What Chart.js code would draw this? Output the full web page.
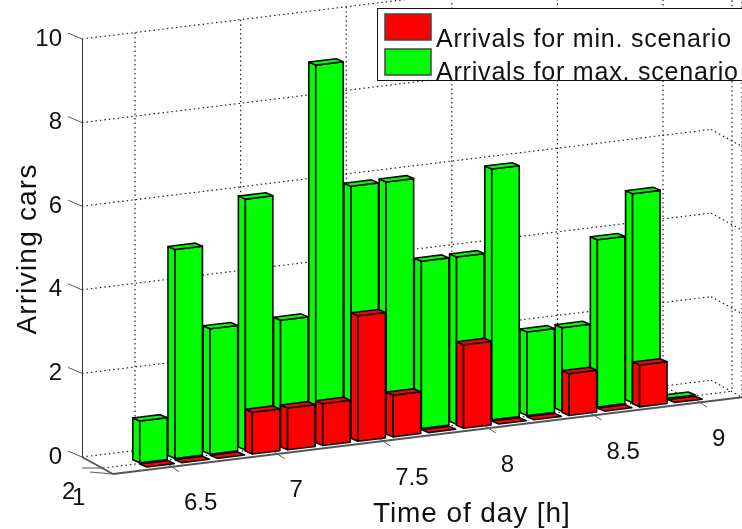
<!DOCTYPE html>
<html>
<head>
<meta charset="utf-8">
<style>
  html, body { margin: 0; padding: 0; background: #fff; overflow: hidden; }
  #wrap { width: 742px; height: 529px; }
</style>
<script src="https://cdn.jsdelivr.net/npm/chart.js@4"></script>
</head>
<body>
<div id="wrap"><canvas id="grafico"></canvas></div>
<script>
const horas = [6.5, 6.6667, 6.8333, 7, 7.1667, 7.3333, 7.5, 7.6667, 7.8333, 8, 8.1667, 8.3333, 8.5, 8.6667, 8.8333, 9];
const minCenario = [0, 0, 0, 1, 1, 1, 3, 1, 0, 2, 0, 0, 1, 0, 1, 0];
const maxCenario = [1, 5, 3, 6, 3, 9, 6, 6, 4, 4, 6, 2, 2, 4, 5, 0];
const ticksX = [6.5, 7, 7.5, 8, 8.5, 9];
const ticksZ = [0, 2, 4, 6, 8, 10];
const ticksProf = ['2', '1'];

const FONTE = '"Liberation Sans", Arial, sans-serif';
const INCL = -0.122;
const PROF_X = 7, PROF_Y = 3;
const deslocaBarra = [{ dx: 7, dy: 14 }, { dx: 0, dy: 9 }];

function linha(ctx, x1, y1, x2, y2) {
  ctx.beginPath();
  ctx.moveTo(x1, y1);
  ctx.lineTo(x2, y2);
  ctx.stroke();
}

function poligono(ctx, pts, cor) {
  ctx.beginPath();
  pts.forEach((p, i) => (i ? ctx.lineTo(p[0], p[1]) : ctx.moveTo(p[0], p[1])));
  ctx.closePath();
  ctx.fillStyle = cor;
  ctx.fill();
  ctx.stroke();
}

function texto(ctx, str, x, y, tam, esp, alinh) {
  ctx.font = tam + 'px ' + FONTE;
  ctx.letterSpacing = esp + 'px';
  ctx.textAlign = alinh || 'left';
  ctx.fillStyle = '#111';
  ctx.fillText(str, x, y);
  ctx.letterSpacing = '0px';
}

// fundo em perspectiva: parede de tras, chao e parede direita
const fundo3d = {
  id: 'fundo3d',
  beforeDatasetsDraw(chart) {
    const ctx = chart.ctx, sx = chart.scales.x, sz = chart.scales.y;
    const x0 = chart.chartArea.left;
    const z0 = sz.getPixelForValue(0), z10 = sz.getPixelForValue(10);
    const sobe = (x) => INCL * (x - x0);
    const xFim = 711;
    ctx.save();
    ctx.strokeStyle = '#222';
    ctx.lineWidth = 1.2;
    ctx.setLineDash([1.5, 3]);
    ticksZ.forEach((v) => {
      const y = sz.getPixelForValue(v);
      linha(ctx, x0, y, xFim, y + sobe(xFim));
      linha(ctx, xFim, y + sobe(xFim), xFim + 31, y + sobe(xFim) + 17);
    });
    ticksX.forEach((v) => {
      const x = sx.getPixelForValue(v) - 15;
      linha(ctx, x, z10 + sobe(x), x, z0 + sobe(x));
      linha(ctx, x, z0 + sobe(x), x + 32, z0 + sobe(x) + 16);
    });
    // profundidade y = 2
    linha(ctx, x0 + 21, z0 + 11, xFim + 21, z0 + sobe(xFim) + 11);
    linha(ctx, xFim + 21, z10 + sobe(xFim) + 11, xFim + 21, z0 + sobe(xFim) + 11);
    linha(ctx, xFim + 31, z10 + sobe(xFim) + 17, xFim + 31, z0 + sobe(xFim) + 17);
    ctx.setLineDash([]);

    // bordas do chao
    ctx.strokeStyle = '#555';
    ctx.lineWidth = 1.8;
    linha(ctx, x0, z0, x0 + 31, z0 + 17);
    linha(ctx, x0 + 31, z0 + 17, xFim + 31, z0 + sobe(xFim) + 17);

    // marcas dos eixos
    ctx.lineWidth = 1;
    ticksZ.forEach((v) => {
      const y = sz.getPixelForValue(v);
      linha(ctx, x0, y, x0 - 14, y - 6);
    });
    linha(ctx, x0 + 21, z0 + 11, x0, z0 + 11);
    linha(ctx, x0 + 31, z0 + 17, x0 + 8, z0 + 15);
    ticksX.forEach((v) => {
      const x = sx.getPixelForValue(v) + 17;
      linha(ctx, x, z0 + sobe(x) + 17, x + 12, z0 + sobe(x) + 25);
    });
    ctx.restore();
  },

  // desenha cada barra como caixa, a partir dos elementos calculados pelo Chart.js
  beforeDatasetDraw(chart, args) {
    const ctx = chart.ctx;
    const x0 = chart.chartArea.left;
    const d = deslocaBarra[args.index];
    const cor = chart.data.datasets[args.index].backgroundColor;
    ctx.save();
    ctx.strokeStyle = '#0a0a0a';
    ctx.lineWidth = 1.6;
    ctx.lineJoin = 'round';
    args.meta.data.forEach((el) => {
      const p = el.getProps(['x', 'y', 'base', 'width'], true);
      const e = p.x - p.width / 2 + d.dx;
      const largura = p.width - PROF_X;
      const s = INCL * (e - x0) + d.dy;
      const queda = INCL * largura;
      const tb = p.y + s, bb = p.base + s; // topo e base no canto de tras
      const fe = e + PROF_X, fd = fe + largura;
      if (bb - tb > 0.5) {
        poligono(ctx, [[e, tb], [fe, tb + PROF_Y], [fe, bb + PROF_Y], [e, bb]], cor);
        poligono(ctx, [[fe, tb + PROF_Y], [fd, tb + PROF_Y + queda], [fd, bb + PROF_Y + queda], [fe, bb + PROF_Y]], cor);
      }
      poligono(ctx, [[e, tb], [fe, tb + PROF_Y], [fd, tb + PROF_Y + queda], [fd - PROF_X, tb + queda]], cor);
    });
    ctx.restore();
    return false;
  },

  afterDraw(chart) {
    const ctx = chart.ctx, sx = chart.scales.x, sz = chart.scales.y;
    const x0 = chart.chartArea.left;
    const z0 = sz.getPixelForValue(0);
    ctx.save();
    ctx.textBaseline = 'middle';
    ticksX.forEach((v) => {
      const x = sx.getPixelForValue(v);
      texto(ctx, String(v), x + 34, z0 + INCL * (x - x0) + 55, 24, 0);
    });
    texto(ctx, ticksProf[0], 62, 492, 24, 0);
    texto(ctx, ticksProf[1], 72, 498, 24, 0);

    ctx.textBaseline = 'alphabetic';
    texto(ctx, 'Time of day [h]', 373, 522, 28, 0.9);
    ctx.translate(36, 249);
    ctx.rotate(-Math.PI / 2);
    texto(ctx, 'Arriving cars', 0, 0, 28, 1.2, 'center');
    ctx.setTransform(1, 0, 0, 1, 0, 0);

    // legenda
    ctx.fillStyle = '#fff';
    ctx.strokeStyle = '#111';
    ctx.lineWidth = 1;
    ctx.fillRect(377, 8, 370, 72);
    ctx.strokeRect(377.5, 8.5, 370, 72);
    chart.data.datasets.forEach((ds, i) => {
      ctx.strokeStyle = '#444';
      ctx.lineWidth = 1.5;
      ctx.fillStyle = ds.backgroundColor;
      ctx.fillRect(385, 14 + i * 35, 46, 26);
      ctx.strokeRect(385, 14 + i * 35, 46, 26);
      texto(ctx, ds.label, 436, 46.5 + i * 33.5, 25, 0.8);
    });
    ctx.restore();
  },
};

new Chart(document.getElementById('grafico'), {
  type: 'bar',
  data: {
    datasets: [
      {
        label: 'Arrivals for min. scenario',
        data: horas.map((h, i) => ({ x: h, y: minCenario[i] })),
        backgroundColor: '#ff0000',
      },
      {
        label: 'Arrivals for max. scenario',
        data: horas.map((h, i) => ({ x: h, y: maxCenario[i] })),
        backgroundColor: '#00ff00',
      },
    ],
  },
  options: {
    responsive: true,
    maintainAspectRatio: false,
    animation: false,
    grouped: false,
    categoryPercentage: 1,
    barPercentage: 0.98,
    layout: { padding: { top: 39, bottom: 72, left: 0, right: 0 } },
    plugins: { legend: { display: false }, tooltip: { enabled: false } },
    scales: {
      x: { type: 'linear', display: false, offset: false, min: 6.178, max: 9.303 },
      y: {
        min: 0,
        max: 10,
        afterBuildTicks: (s) => { s.ticks = ticksZ.map((v) => ({ value: v })); },
        afterFit: (s) => { s.width = 82; },
        grid: { display: false, drawTicks: false },
        border: { display: true, color: '#333', width: 1 },
        ticks: { padding: 20, color: '#111', font: { size: 24, family: FONTE } },
      },
    },
  },
  plugins: [fundo3d],
});
</script>
</body>
</html>
